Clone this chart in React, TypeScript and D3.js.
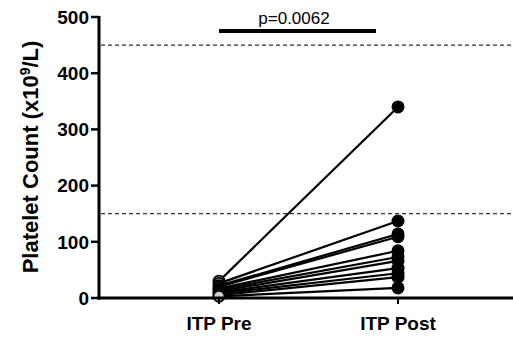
import React from 'react';
import * as d3 from 'd3';

const groups = ['ITP Pre', 'ITP Post'];
const preValues = [30, 26, 22, 20, 17, 15, 12, 10, 8, 5, 3];
const postValues = [340, 137, 114, 109, 84, 73, 66, 53, 44, 37, 18];
const yTicks = [0, 100, 200, 300, 400, 500];
const refLines = [150, 450];
const pLabel = 'p=0.0062';

const W = 513;
const H = 338;
const font = '"Liberation Sans", Arial, sans-serif';

const App = () => {
  const y = d3.scaleLinear().domain([0, 500]).range([298, 17]);
  const x = d3.scalePoint().domain(groups).range([219, 398]);
  const x0 = 99;

  const pairs = preValues.map((v, i) => ({ pre: v, post: postValues[i] }));
  const line = d3.line<[string, number]>()
    .x(d => x(d[0]) as number)
    .y(d => y(d[1]));

  return (
    <svg width={W} height={H} style={{ position: 'absolute', left: 0, top: 0, background: '#fff' }}>
      {/* reference lines */}
      {refLines.map(v => (
        <line key={v} x1={x0 + 2} x2={W} y1={y(v)} y2={y(v)}
          stroke="#333" strokeWidth={1.2} strokeDasharray="4,3" />
      ))}

      {/* paired lines */}
      {pairs.map((p, i) => (
        <path key={i} d={line([[groups[0], p.pre], [groups[1], p.post]]) as string}
          fill="none" stroke="#000" strokeWidth={2.2} />
      ))}

      {/* post dots */}
      {postValues.map((v, i) => (
        <circle key={i} cx={x(groups[1])} cy={y(v)} r={6.5} fill="#000" />
      ))}
      {/* pre dots */}
      {preValues.map((v, i) => (
        <circle key={i} cx={x(groups[0])} cy={y(v)} r={5.5} fill="#d0d0d0" stroke="#000" strokeWidth={1.8} />
      ))}

      {/* y axis */}
      <line x1={x0} x2={x0} y1={y(500) - 1} y2={y(0) + 1.5} stroke="#000" strokeWidth={3} />
      {yTicks.map(t => (
        <g key={t}>
          <line x1={x0 - 8} x2={x0} y1={y(t)} y2={y(t)} stroke="#000" strokeWidth={2.5} />
          <text x={x0 - 10} y={y(t)} dy="0.36em" textAnchor="end"
            fontFamily={font} fontWeight="bold" fontSize={19}>{t}</text>
        </g>
      ))}

      {/* x axis */}
      <line x1={x0 - 1.5} x2={W} y1={y(0)} y2={y(0)} stroke="#000" strokeWidth={3} />
      {groups.map(g => (
        <g key={g}>
          <line x1={x(g)} x2={x(g)} y1={y(0)} y2={y(0) + 6} stroke="#000" strokeWidth={2} />
          <text x={x(g)} y={330} textAnchor="middle" fontFamily={font} fontWeight="bold" fontSize={19}>{g}</text>
        </g>
      ))}

      {/* y label */}
      <text transform={`translate(38,${157}) rotate(-90)`} textAnchor="middle"
        fontFamily={font} fontWeight="bold" fontSize={22}>
        Platelet Count (x10<tspan dy={-8} fontSize={14}>9</tspan><tspan dy={8}>/L)</tspan>
      </text>

      {/* significance bar */}
      <line x1={x(groups[0])} x2={376} y1={31} y2={31} stroke="#000" strokeWidth={4} />
      <text x={294} y={24} textAnchor="middle" fontFamily={font} fontSize={17}>{pLabel}</text>
    </svg>
  );
};

export default App;
